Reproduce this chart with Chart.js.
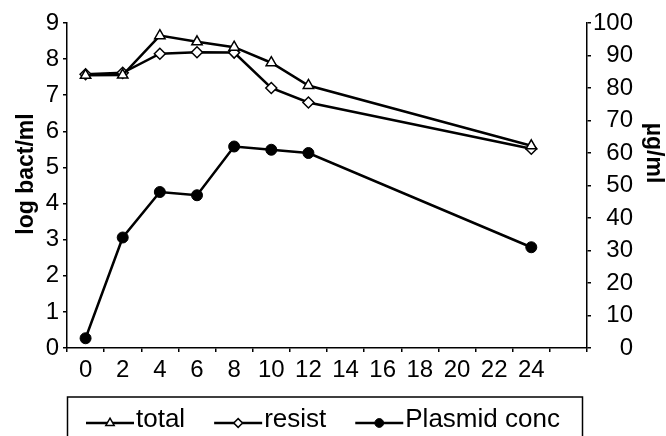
<!DOCTYPE html>
<html lang="en">
<head>
<meta charset="UTF-8" />
<title>Bacteria and plasmid concentration</title>
<script src="https://cdn.jsdelivr.net/npm/chart.js"></script>
<style>
  html, body { margin: 0; padding: 0; background: #fff; }
</style>
</head>
<body>
<canvas id="chart" width="666" height="436"></canvas>
<script>
  // time axis (h) - Excel category axis, last slot left empty
  const hours = ['0', '2', '4', '6', '8', '10', '12', '14', '16', '18', '20', '22', '24', ''];
  // log bact/ml
  const totalLog  = [7.55, 7.56, 8.65, 8.48, 8.33, 7.9, 7.27, null, null, null, null, null, 5.6, null];
  const resistLog = [7.58, 7.62, 8.15, 8.19, 8.18, 7.2, 6.8, null, null, null, null, null, 5.52, null];
  // µg/ml
  const plasmidConc = [3, 34, 48, 47, 62, 61, 60, null, null, null, null, null, 31, null];

  const leftTitle = 'log bact/ml';
  const rightTitle = 'µg/ml';

  Chart.defaults.font.family = '"Liberation Sans", Arial, sans-serif';
  Chart.defaults.color = '#000';

  function drawRotated(ctx, text, x, y, angle) {
    ctx.save();
    ctx.translate(x, y);
    ctx.rotate(angle);
    ctx.textAlign = 'center';
    ctx.textBaseline = 'middle';
    ctx.fillText(text, 0, 0);
    ctx.restore();
  }

  // legend inside a box (line + marker like Excel) and the two axis titles,
  // which Excel puts a bit above the middle of the axis
  const boxLegend = {
    id: 'boxLegend',
    afterDraw(chart) {
      const { ctx, chartArea } = chart;
      const top = chart.height - 39;
      ctx.save();
      ctx.strokeStyle = '#000';
      ctx.lineWidth = 1.5;
      ctx.strokeRect(chartArea.left + 0.5, top, chartArea.right - chartArea.left - 5, 60);
      ctx.font = '26px "Liberation Sans", Arial, sans-serif';
      ctx.textBaseline = 'alphabetic';
      let x = chartArea.left + 19;
      const y = top + 26;
      chart.data.datasets.forEach(ds => {
        ctx.beginPath();
        ctx.moveTo(x, y);
        ctx.lineTo(x + 48, y);
        ctx.lineWidth = ds.borderWidth;
        ctx.strokeStyle = ds.borderColor;
        ctx.stroke();
        ctx.fillStyle = ds.pointBackgroundColor;
        ctx.strokeStyle = ds.pointBorderColor;
        ctx.lineWidth = ds.pointBorderWidth;
        Chart.helpers.drawPoint(ctx, { pointStyle: ds.pointStyle, radius: ds.pointRadius * 0.8, borderWidth: ds.pointBorderWidth, rotation: 0 }, x + 24, y);
        ctx.fillStyle = '#000';
        ctx.fillText(ds.label, x + 50, y + 4);
        x += 50 + ctx.measureText(ds.label).width + 29;
      });

      ctx.font = 'bold 23px "Liberation Sans", Arial, sans-serif';
      drawRotated(ctx, leftTitle, 27, chartArea.top + 151, -Math.PI / 2);
      drawRotated(ctx, rightTitle, 653, chartArea.top + 130, Math.PI / 2);
      ctx.restore();
    }
  };

  new Chart(document.getElementById('chart'), {
    type: 'line',
    data: {
      labels: hours,
      datasets: [
        {
          label: 'total', data: totalLog, yAxisID: 'y',
          borderColor: '#000', borderWidth: 2.5, spanGaps: true,
          pointStyle: 'triangle', pointRadius: 6, pointBackgroundColor: '#fff',
          pointBorderColor: '#000', pointBorderWidth: 1.5
        },
        {
          label: 'resist', data: resistLog, yAxisID: 'y',
          borderColor: '#000', borderWidth: 2.5, spanGaps: true,
          pointStyle: 'rectRot', pointRadius: 5.5, pointBackgroundColor: '#fff',
          pointBorderColor: '#000', pointBorderWidth: 1.5
        },
        {
          label: 'Plasmid conc', data: plasmidConc, yAxisID: 'y1',
          borderColor: '#000', borderWidth: 2.5, spanGaps: true,
          pointStyle: 'circle', pointRadius: 5.5, pointBackgroundColor: '#000',
          pointBorderColor: '#000', pointBorderWidth: 1
        }
      ]
    },
    options: {
      responsive: false,
      animation: false,
      layout: { padding: { top: 23, bottom: 48, left: 0, right: 33 } },
      plugins: { legend: { display: false }, tooltip: { enabled: false } },
      scales: {
        x: {
          type: 'category',
          offset: true,
          grid: { offset: true, drawOnChartArea: false, color: '#000', lineWidth: 1.5, tickLength: 4 },
          border: { color: '#000', width: 1.5 },
          ticks: { color: '#000', font: { size: 24 }, padding: 4, maxRotation: 0, autoSkip: false },
          afterFit: s => { s.height = 40; }
        },
        y: {
          position: 'left', min: 0, max: 9,
          ticks: { stepSize: 1, color: '#000', font: { size: 24 }, padding: 4 },
          grid: { drawOnChartArea: false, color: '#000', lineWidth: 1.5, tickLength: 4 },
          border: { color: '#000', width: 1.5 },
          afterFit: s => { s.width = 67; }
        },
        y1: {
          position: 'right', min: 0, max: 100,
          ticks: { stepSize: 10, color: '#000', font: { size: 24 }, padding: 2, crossAlign: 'far' },
          grid: { drawOnChartArea: false, color: '#000', lineWidth: 1.5, tickLength: 4 },
          border: { color: '#000', width: 1.5 },
          afterFit: s => { s.width = 46; }
        }
      }
    },
    plugins: [boxLegend]
  });
</script>
</body>
</html>
